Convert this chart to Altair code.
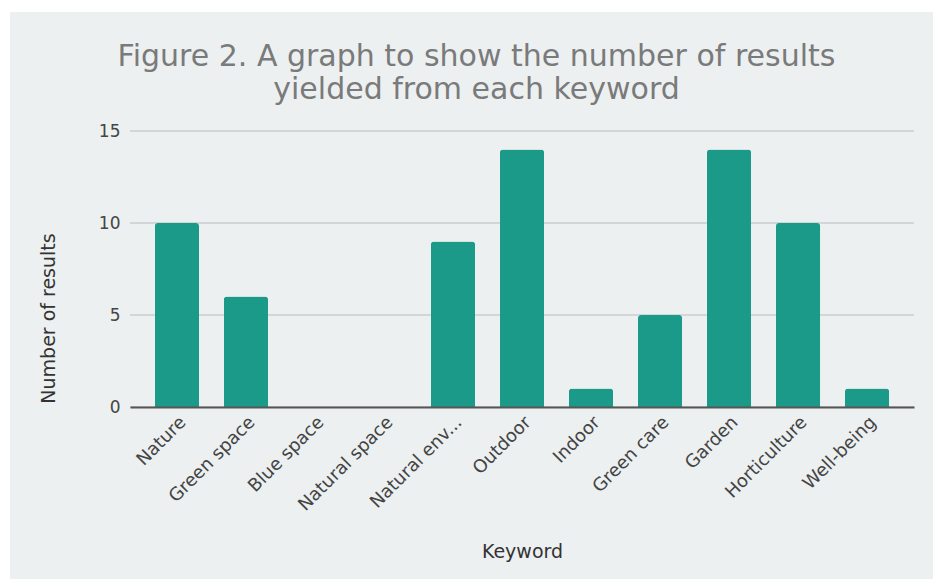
import altair as alt
import pandas as pd

keywords = ["Nature", "Green space", "Blue space", "Natural space", "Natural env...",
            "Outdoor", "Indoor", "Green care", "Garden", "Horticulture", "Well-being"]
results = [10, 6, 0, 0, 9, 14, 1, 5, 14, 10, 1]
y_ticks = [0, 5, 10, 15]
title_lines = ["Figure 2. A graph to show the number of results", "yielded from each keyword"]

W, H = 784, 276
FONT = "DejaVu Sans"
BG = "#ecf0f1"

df = pd.DataFrame({"Keyword": keywords, "Results": results})
grid_df = pd.DataFrame({"Results": y_ticks})

yscale = alt.Scale(domain=[0, 15], nice=False, zero=True)

yaxis = alt.Axis(title="Number of results", values=y_ticks, grid=False, domain=False,
                 ticks=False, labelPadding=10, labelFontSize=17, labelColor="#444444",
                 titleFontSize=19, titleColor="#333333", titleFontWeight="normal",
                 titleX=-76, titleY=187, titleAngle=-90, titleBaseline="alphabetic",
                 titleAlign="center", zindex=1)

xaxis = alt.Axis(title="Keyword", labelAngle=-45, labelFontSize=18, labelColor="#444444",
                 titleFontSize=19, titleColor="#333333", titleFontWeight="normal",
                 domainColor="#555555", domainWidth=2, ticks=False, grid=False,
                 labelPadding=6, titleY=150, titleBaseline="alphabetic", zindex=1)

# background panel (decoration, leaves a thin white margin top/left like the reference)
panel = alt.Chart(alt.Data(values=[{"p": 1}])).mark_rect(color=BG).encode(
    x=alt.value(-120), x2=alt.value(W + 19), y=alt.value(-119), y2=alt.value(H + 172)
)

grid = alt.Chart(grid_df).mark_rule(color="#cccccc", strokeWidth=1.5).encode(
    y=alt.Y("Results:Q", scale=yscale, axis=yaxis)
)

bars = alt.Chart(df).mark_bar(color="#1b9a8a", cornerRadiusTopLeft=3,
                              cornerRadiusTopRight=3).encode(
    x=alt.X("Keyword:N", sort=keywords,
            scale=alt.Scale(paddingInner=0.36, paddingOuter=0.36), axis=xaxis),
    y=alt.Y("Results:Q", scale=yscale, axis=yaxis),
)

chart = alt.layer(panel, grid, bars).properties(
    width=W, height=H, background="white",
    padding={"left": 10, "top": 12, "right": 0, "bottom": 0},
    title=alt.TitleParams(text=title_lines, fontSize=30, color="#7a7a7a", font=FONT,
                          fontWeight="normal", lineHeight=33, anchor="middle",
                          frame="bounds", offset=-93, dx=5),
).configure_view(stroke=None).configure_axis(labelFont=FONT, titleFont=FONT)

chart.save("out.html", embed_options={"renderer": "svg", "actions": False})
